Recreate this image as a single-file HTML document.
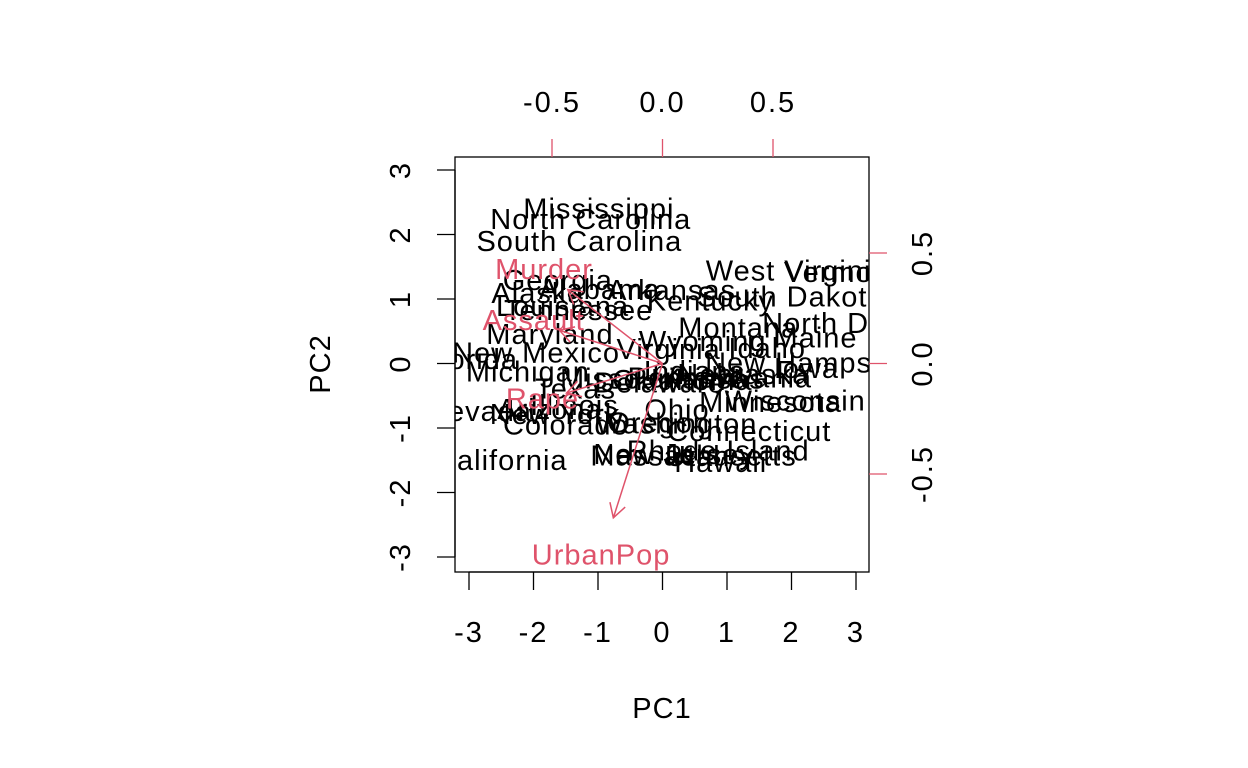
<!DOCTYPE html>
<html><head><meta charset="utf-8"><style>
html,body{margin:0;padding:0;background:#fff;}
svg{display:block;font-family:"Liberation Sans",Arial,sans-serif;}
text{letter-spacing:1px;}
text.tk{letter-spacing:2px;}
</style></head><body>
<svg id="chart" width="1248" height="768" viewBox="0 0 1248 768" xmlns="http://www.w3.org/2000/svg">
<defs><clipPath id="clip"><rect x="455" y="157" width="414" height="415"/></clipPath></defs>
<g id="obs" clip-path="url(#clip)"></g>
<g id="vars" clip-path="url(#clip)"></g>
<rect x="455" y="157" width="414" height="415" fill="none" stroke="#000" stroke-width="1.3"/>
<g id="axes"></g>
<text x="662" y="718" font-size="29" text-anchor="middle">PC1</text>
<text x="0" y="0" font-size="29" text-anchor="middle" transform="translate(330,364) rotate(-90)">PC2</text>
</svg>
<script>
const states = ["Alabama","Alaska","Arizona","Arkansas","California","Colorado","Connecticut","Delaware","Florida","Georgia","Hawaii","Idaho","Illinois","Indiana","Iowa","Kansas","Kentucky","Louisiana","Maine","Maryland","Massachusetts","Michigan","Minnesota","Mississippi","Missouri","Montana","Nebraska","Nevada","New Hampshire","New Jersey","New Mexico","New York","North Carolina","North Dakota","Ohio","Oklahoma","Oregon","Pennsylvania","Rhode Island","South Carolina","South Dakota","Tennessee","Texas","Utah","Vermont","Virginia","Washington","West Virginia","Wisconsin","Wyoming"];
const pc1 = [-0.976,-1.931,-1.745,0.140,-2.499,-1.499,1.345,-0.047,-2.982,-1.623,0.903,1.623,-1.365,0.500,2.230,0.789,0.743,-1.549,2.373,-1.745,0.481,-2.087,1.675,-0.986,-0.690,1.174,1.253,-2.845,2.360,0.180,-1.960,-1.666,-1.112,2.963,0.224,0.309,-0.059,0.888,0.864,-1.289,1.988,-1.300,-1.346,0.545,2.773,0.095,0.215,2.087,2.058,0.623];
const pc2 = [1.122,1.062,-0.738,1.109,-1.527,-0.978,-1.078,-0.322,0.039,1.266,-1.555,0.209,-0.675,-0.150,-0.103,-0.267,0.949,0.862,0.373,0.423,-1.460,-0.154,-0.626,2.370,-0.260,0.531,-0.192,-0.768,-0.018,-1.434,0.141,-0.815,2.206,0.594,-0.742,-0.288,-0.946,-0.246,-1.38,1.868,1.004,0.800,-0.418,-1.467,1.388,0.197,-0.961,1.411,-0.605,0.318];
const vars = ["Murder","Assault","UrbanPop","Rape"];
const load1 = [-0.536,-0.583,-0.278,-0.543];
const load2 = [0.418,0.188,-0.873,-0.167];
const bottomTicks = [-3,-2,-1,0,1,2,3];
const leftTicks = [-3,-2,-1,0,1,2,3];
const topTicks = [-0.5,0.0,0.5];
const rightTicks = [-0.5,0.0,0.5];

const RED = "#DF536B", NS = "http://www.w3.org/2000/svg", FS = 29, OFF = 8;
const sx = v => 662.5 + v*64.5, sy = v => 363.5 - v*64.5;
const tx = v => 662.5 + v*221, ty = v => 363.5 - v*221;
function mk(tag, attrs, parent, txt){const e=document.createElementNS(NS,tag);for(const k in attrs)e.setAttribute(k,attrs[k]);if(txt!==undefined)e.textContent=txt;parent.appendChild(e);return e;}
const obs=document.getElementById('obs'), vg=document.getElementById('vars'), ax=document.getElementById('axes');
states.forEach((s,i)=>{
  const t=mk('text',{x:sx(pc1[i]),y:sy(pc2[i])+OFF,'font-size':FS,'text-anchor':'middle'},obs,s);
  
  
});
vars.forEach((v,i)=>{
  const x2=tx(load1[i]*0.8), y2=ty(load2[i]*0.8), x1=662.5, y1=363.5;
  const a=mk('line',{x1,y1,x2,y2,stroke:RED,'stroke-width':1.5},vg);
  
  
  const ang=Math.atan2(y2-y1,x2-x1), L=16, w=Math.PI/6;
  const h=mk('polyline',{points:`${x2-L*Math.cos(ang-w)},${y2-L*Math.sin(ang-w)} ${x2},${y2} ${x2-L*Math.cos(ang+w)},${y2-L*Math.sin(ang+w)}`,fill:'none',stroke:RED,'stroke-width':1.5},vg);
  
  
  const t=mk('text',{x:tx(load1[i]),y:ty(load2[i])+OFF,'font-size':FS,'text-anchor':'middle',fill:RED},vg,v);
  
  
});
bottomTicks.forEach(v=>{
  const l=mk('line',{x1:sx(v),x2:sx(v),y1:572,y2:590,stroke:'#000','stroke-width':1.3},ax);
  
  
  const t=mk('text',{x:sx(v),y:642,'font-size':FS,'text-anchor':'middle','class':'tk'},ax,String(v));
  
  
});
leftTicks.forEach(v=>{
  const l=mk('line',{x1:437,x2:455,y1:sy(v),y2:sy(v),stroke:'#000','stroke-width':1.3},ax);
  
  
  const t=mk('text',{x:0,y:0,'font-size':FS,'text-anchor':'middle','class':'tk',transform:`translate(410,${sy(v)}) rotate(-90)`},ax,String(v));
  
  
});
mk('line',{x1:sx(-3),x2:sx(3),y1:572,y2:572,stroke:'#000','stroke-width':1.3},ax);
mk('line',{x1:455,x2:455,y1:sy(-3),y2:sy(3),stroke:'#000','stroke-width':1.3},ax);
topTicks.forEach(v=>{
  const l=mk('line',{x1:tx(v),x2:tx(v),y1:157,y2:139,stroke:RED,'stroke-width':1.3},ax);
  
  
  const t=mk('text',{x:tx(v),y:112,'font-size':FS,'text-anchor':'middle','class':'tk'},ax,v.toFixed(1));
  
  
});
rightTicks.forEach(v=>{
  const l=mk('line',{x1:869,x2:887,y1:ty(v),y2:ty(v),stroke:RED,'stroke-width':1.3},ax);
  
  
  const t=mk('text',{x:0,y:0,'font-size':FS,'text-anchor':'middle','class':'tk',transform:`translate(932,${ty(v)}) rotate(-90)`},ax,v.toFixed(1));
  
  
});
</script>
</body></html>
